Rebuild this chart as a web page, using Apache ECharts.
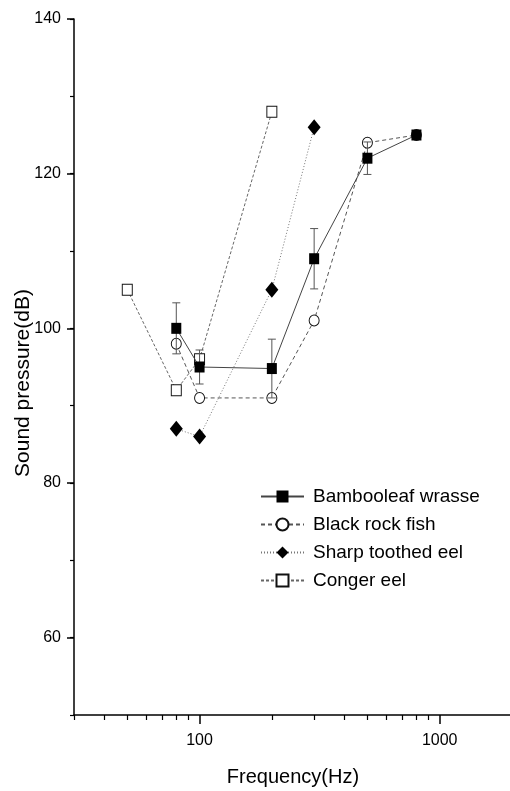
<!DOCTYPE html>
<html>
<head>
<meta charset="utf-8">
<script src="https://cdn.jsdelivr.net/npm/echarts@6/dist/echarts.min.js"></script>
<style>html,body{margin:0;padding:0;background:#fff}#c{width:510px;height:791px}</style>
</head>
<body>
<div id="c"></div>
<script>
// Data
const wrasseFreq = [80, 100, 200, 300, 500, 800];
const wrasseVal  = [100, 95, 94.8, 109, 122, 125];
const wrasseErr  = [3.3, 2.2, 3.8, 3.9, 2.1, 0];
const rockFreq = [80, 100, 200, 300, 500, 800];
const rockVal  = [98, 91, 91, 101, 124, 125];
const eelFreq = [80, 100, 200, 300];
const eelVal  = [87, 86, 105, 126];
const congerFreq = [50, 80, 100, 200];
const congerVal  = [105, 92, 96, 128];
const seriesNames = ['Bambooleaf wrasse', 'Black rock fish', 'Sharp toothed eel', 'Conger eel'];
const xMajor = [100, 1000];
const xMinor = [30, 40, 50, 60, 70, 80, 90, 200, 300, 400, 500, 600, 700, 800, 900, 2000];
const yMajor = [60, 80, 100, 120, 140];

const pairs = (xs, ys) => xs.map((x, i) => [x, ys[i]]);
const font = 'Liberation Sans, Arial, sans-serif';

const chart = echarts.init(document.getElementById('c'));
chart.setOption({
  animation: false,
  backgroundColor: '#fff',
  grid: { left: 74, top: 19, width: 438, height: 696, outerBoundsMode: 'none', containLabel: false },
  legend: {
    orient: 'vertical', left: 260, top: 487, padding: 0, itemWidth: 43, itemHeight: 15, itemGap: 9,
    data: seriesNames,
    textStyle: { fontFamily: font, fontSize: 19, color: '#000', padding: [0, 0, 0, 4] }
  },
  xAxis: [
    {
      type: 'log', logBase: 10, min: 30, max: 2000, position: 'bottom',
      name: 'Frequency(Hz)', nameLocation: 'middle', nameGap: 52,
      nameTextStyle: { fontFamily: font, fontSize: 20, color: '#000' },
      axisLine: { show: true, lineStyle: { color: '#000', width: 1.5 } },
      axisTick: { show: true, length: 9, customValues: xMajor, lineStyle: { color: '#000', width: 1.5 } },
      axisLabel: { customValues: xMajor, margin: 18, fontFamily: font, fontSize: 16, color: '#000',
                   formatter: v => String(Math.round(v)) },
      splitLine: { show: false }
    },
    {
      type: 'log', logBase: 10, min: 30, max: 2000, position: 'bottom',
      axisLine: { show: false },
      axisTick: { show: true, length: 5, customValues: xMinor, lineStyle: { color: '#000', width: 1.2 } },
      axisLabel: { show: false },
      splitLine: { show: false }
    }
  ],
  yAxis: [
    {
      type: 'value', min: 50, max: 140, interval: 10, position: 'left',
      axisLine: { show: true, lineStyle: { color: '#000', width: 1.5 } },
      axisTick: { show: true, length: 4, lineStyle: { color: '#000', width: 1.2 } },
      axisLabel: { show: false },
      splitLine: { show: false }
    },
    {
      type: 'value', min: 50, max: 140, position: 'left', offset: 0,
      name: 'Sound pressure(dB)', nameLocation: 'middle', nameGap: 40, nameMoveOverlap: false,
      nameTextStyle: { fontFamily: font, fontSize: 21, color: '#000', padding: [0, 32, 0, 0] },
      axisLine: { show: false },
      axisTick: { show: true, length: 7, customValues: yMajor, lineStyle: { color: '#000', width: 1.5 } },
      axisLabel: { customValues: yMajor, margin: 13, fontFamily: font, fontSize: 16, color: '#000' },
      splitLine: { show: false }
    }
  ],
  series: [
    {
      name: 'Conger eel', type: 'line', z: 2,
      data: pairs(congerFreq, congerVal),
      symbol: 'rect', symbolSize: [10, 11],
      itemStyle: { color: '#fff', borderColor: '#111', borderWidth: 1 },
      lineStyle: { color: '#666', width: 1, type: [3, 2] }
    },
    {
      name: 'Sharp toothed eel', type: 'line', z: 3,
      data: pairs(eelFreq, eelVal),
      symbol: 'diamond', symbolSize: [13, 16],
      itemStyle: { color: '#000' },
      lineStyle: { color: '#777', width: 1, type: [1, 2] }
    },
    {
      name: 'Black rock fish', type: 'line', z: 4,
      data: pairs(rockFreq, rockVal),
      symbol: 'circle', symbolSize: [10, 11],
      itemStyle: { color: '#fff', borderColor: '#111', borderWidth: 1 },
      lineStyle: { color: '#555', width: 1, type: [4, 3] }
    },
    {
      name: 'wrasse-err', type: 'custom', z: 5, silent: true,
      data: wrasseFreq.map((f, i) => [f, wrasseVal[i] - wrasseErr[i], wrasseVal[i] + wrasseErr[i]]),
      renderItem: function (params, api) {
        const lo = api.coord([api.value(0), api.value(1)]);
        const hi = api.coord([api.value(0), api.value(2)]);
        const hw = 4;
        const st = { stroke: '#555', lineWidth: 1, fill: null };
        return {
          type: 'group',
          children: [
            { type: 'line', shape: { x1: lo[0], y1: lo[1], x2: hi[0], y2: hi[1] }, style: st },
            { type: 'line', shape: { x1: lo[0] - hw, y1: lo[1], x2: lo[0] + hw, y2: lo[1] }, style: st },
            { type: 'line', shape: { x1: hi[0] - hw, y1: hi[1], x2: hi[0] + hw, y2: hi[1] }, style: st }
          ]
        };
      }
    },
    {
      name: 'Bambooleaf wrasse', type: 'line', z: 6,
      data: pairs(wrasseFreq, wrasseVal),
      symbol: 'rect', symbolSize: [10, 11],
      itemStyle: { color: '#000' },
      lineStyle: { color: '#444', width: 1, type: 'solid' }
    }
  ]
});
</script>
</body>
</html>
